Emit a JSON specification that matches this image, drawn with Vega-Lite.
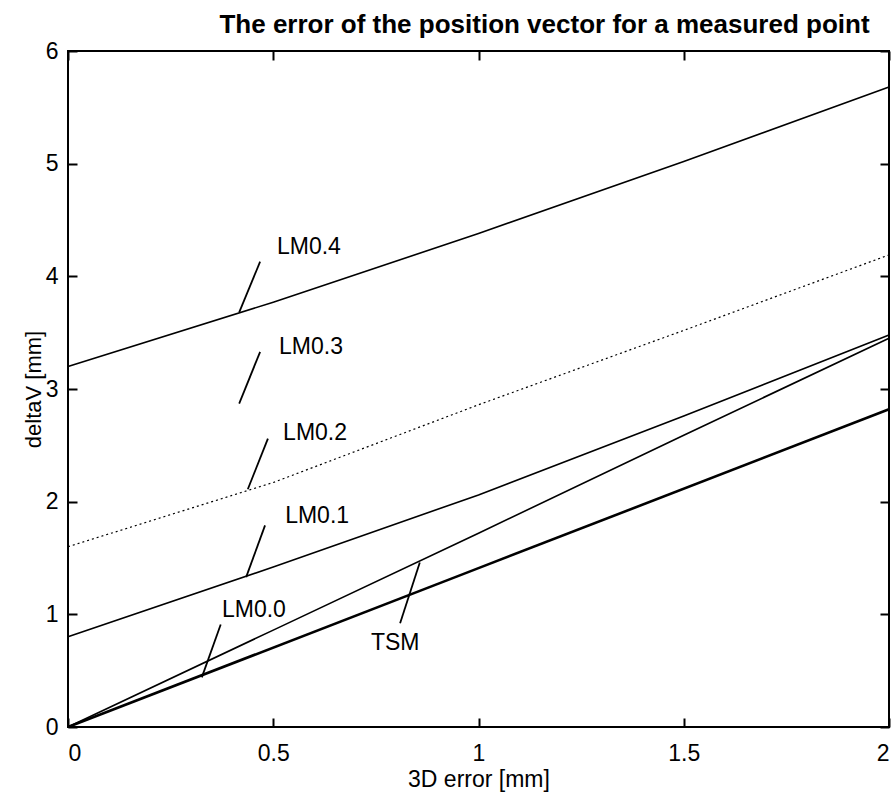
{
  "$schema": "https://vega.github.io/schema/vega-lite/v6.json",
  "width": 821,
  "height": 676,
  "autosize": {"type": "none"},
  "padding": {"left": 68, "top": 51, "right": 6, "bottom": 73},
  "background": "white",
  "config": {
    "font": "Liberation Sans",
    "view": {"stroke": "black", "strokeWidth": 2},
    "axis": {"grid": false, "domain": false, "tickColor": "black", "tickWidth": 2, "tickSize": -9, "labelColor": "black", "labelFont": "Liberation Sans", "labelFontSize": 23, "titleFont": "Liberation Sans", "titleFontSize": 22, "titleFontWeight": "normal", "titleColor": "black"}
  },
  "title": {"text": "The error of the position vector for a measured point", "font": "Liberation Sans", "fontSize": 26, "fontWeight": "bold", "color": "black", "anchor": "middle", "dx": 66, "offset": 2},
  "datasets": {
    "curves": [
      {"series": "LM0.4", "x": 0, "y": 3.2},
      {"series": "LM0.4", "x": 0.5, "y": 3.77},
      {"series": "LM0.4", "x": 1, "y": 4.38},
      {"series": "LM0.4", "x": 1.5, "y": 5.02},
      {"series": "LM0.4", "x": 2, "y": 5.68},
      {"series": "LM0.2", "x": 0, "y": 1.6},
      {"series": "LM0.2", "x": 0.5, "y": 2.17},
      {"series": "LM0.2", "x": 1, "y": 2.86},
      {"series": "LM0.2", "x": 1.5, "y": 3.52},
      {"series": "LM0.2", "x": 2, "y": 4.19},
      {"series": "LM0.1", "x": 0, "y": 0.8},
      {"series": "LM0.1", "x": 0.5, "y": 1.42},
      {"series": "LM0.1", "x": 1, "y": 2.06},
      {"series": "LM0.1", "x": 1.5, "y": 2.76},
      {"series": "LM0.1", "x": 2, "y": 3.48},
      {"series": "TSM", "x": 0, "y": 0},
      {"series": "TSM", "x": 0.5, "y": 0.86},
      {"series": "TSM", "x": 1, "y": 1.72},
      {"series": "TSM", "x": 1.5, "y": 2.59},
      {"series": "TSM", "x": 2, "y": 3.45},
      {"series": "LM0.0", "x": 0, "y": 0},
      {"series": "LM0.0", "x": 1, "y": 1.41},
      {"series": "LM0.0", "x": 2, "y": 2.82}
    ],
    "labels": [
      {"label": "LM0.4", "lx": 0.509, "ly": 4.26, "x1": 0.468, "y1": 4.13, "x2": 0.417, "y2": 3.68},
      {"label": "LM0.3", "lx": 0.514, "ly": 3.37, "x1": 0.468, "y1": 3.33, "x2": 0.417, "y2": 2.87},
      {"label": "LM0.2", "lx": 0.524, "ly": 2.61, "x1": 0.487, "y1": 2.56, "x2": 0.438, "y2": 2.11},
      {"label": "LM0.1", "lx": 0.529, "ly": 1.87, "x1": 0.48, "y1": 1.79, "x2": 0.434, "y2": 1.33},
      {"label": "LM0.0", "lx": 0.375, "ly": 1.04, "x1": 0.372, "y1": 0.91, "x2": 0.326, "y2": 0.44},
      {"label": "TSM", "lx": 0.738, "ly": 0.745, "x1": 0.857, "y1": 1.46, "x2": 0.809, "y2": 0.92}
    ]
  },
  "layer": [
    {
      "data": {"name": "curves"},
      "transform": [{"filter": "datum.series === 'LM0.4' || datum.series === 'LM0.1' || datum.series === 'TSM'"}],
      "mark": {"type": "line", "color": "black", "strokeWidth": 1.6},
      "encoding": {
        "x": {"field": "x", "type": "quantitative", "scale": {"domain": [0, 2], "nice": false}, "axis": {"title": "3D error [mm]", "titleFontSize": 23, "values": [0, 0.5, 1, 1.5, 2], "format": "~g", "labelPadding": 24, "titleY": 52, "titleBaseline": "middle"}},
        "y": {"field": "y", "type": "quantitative", "scale": {"domain": [0, 6], "nice": false}, "axis": {"title": "deltaV [mm]", "values": [0, 1, 2, 3, 4, 5, 6], "labelPadding": 19, "titleX": -35, "titleY": 338, "titleBaseline": "middle", "titleAlign": "center"}},
        "detail": {"field": "series"}
      }
    },
    {
      "data": {"name": "curves"},
      "transform": [{"filter": "datum.series === 'LM0.2'"}],
      "mark": {"type": "line", "color": "black", "strokeWidth": 1.2, "strokeDash": [2, 3]},
      "encoding": {
        "x": {"field": "x", "type": "quantitative", "axis": null},
        "y": {"field": "y", "type": "quantitative", "axis": null}
      }
    },
    {
      "data": {"name": "curves"},
      "transform": [{"filter": "datum.series === 'LM0.0'"}],
      "mark": {"type": "line", "color": "black", "strokeWidth": 2.6},
      "encoding": {
        "x": {"field": "x", "type": "quantitative", "axis": null},
        "y": {"field": "y", "type": "quantitative", "axis": null}
      }
    },
    {
      "data": {"name": "labels"},
      "mark": {"type": "rule", "color": "black", "strokeWidth": 1.8},
      "encoding": {
        "x": {"field": "x1", "type": "quantitative", "axis": null},
        "y": {"field": "y1", "type": "quantitative", "axis": null},
        "x2": {"field": "x2"},
        "y2": {"field": "y2"}
      }
    },
    {
      "data": {"name": "labels"},
      "mark": {"type": "text", "align": "left", "baseline": "middle", "fontSize": 23, "font": "Liberation Sans", "color": "black"},
      "encoding": {
        "x": {"field": "lx", "type": "quantitative", "axis": null},
        "y": {"field": "ly", "type": "quantitative", "axis": null},
        "text": {"field": "label"}
      }
    },
    {
      "data": {"name": "labels"},
      "mark": {"type": "point", "opacity": 0},
      "encoding": {
        "x": {"field": "lx", "type": "quantitative", "axis": {"orient": "top", "labels": false, "title": null, "values": [0, 0.5, 1, 1.5, 2]}},
        "y": {"field": "ly", "type": "quantitative", "axis": {"orient": "right", "labels": false, "title": null, "values": [0, 1, 2, 3, 4, 5, 6]}}
      }
    }
  ],
  "resolve": {"axis": {"x": "independent", "y": "independent"}}
}
